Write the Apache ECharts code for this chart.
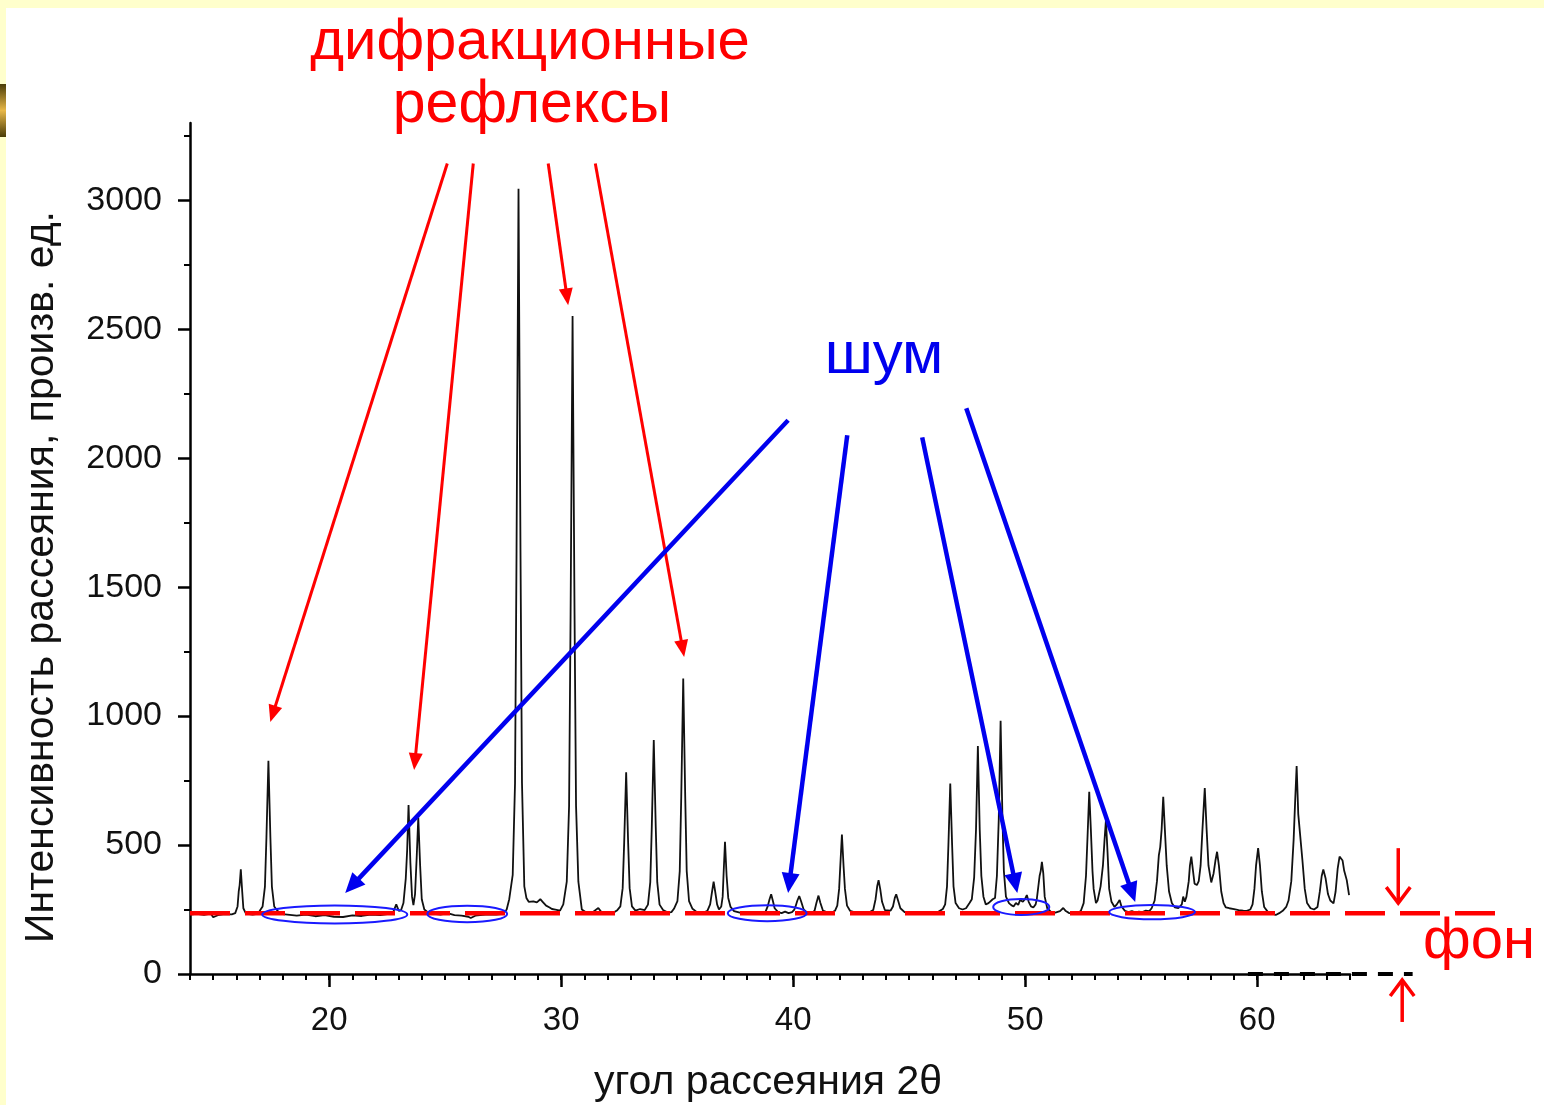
<!DOCTYPE html>
<html><head><meta charset="utf-8">
<script src="https://cdn.jsdelivr.net/npm/echarts@6/dist/echarts.min.js"></script>
<style>
html,body{margin:0;padding:0;width:1544px;height:1105px;overflow:hidden;background:#FFFFCC;}
#panel{position:absolute;left:6px;top:8px;right:0;bottom:0;background:#fff;}
#tab{position:absolute;left:0;top:84px;width:6px;height:53px;background:linear-gradient(#4a3c08,#e8b848 50%,#4a3c08);}
#chart{position:absolute;left:0;top:0;width:1544px;height:1105px;}
</style></head><body>
<div id="panel"></div><div id="tab"></div><div id="chart"></div>
<script>
// ---- data ----
const xMin = 14, xMax = 64, yMin = 0, yMax = 3300;
const xMajorTicks = [20, 30, 40, 50, 60];
const xMinorTicks = [14,15,16,17,18,19,20,21,22,23,24,25,26,27,28,29,30,31,32,33,34,35,36,37,38,39,40,41,42,43,44,45,46,47,48,49,50,51,52,53,54,55,56,57,58,59,60,61,62,63,64];
const yMajorTicks = [0, 500, 1000, 1500, 2000, 2500, 3000];
const yMinorTicks = [250, 750, 1250, 1750, 2250, 2750, 3250];
const backgroundLevel = [[14, 236], [70.6, 236]];
const zeroLevel = [[59.6, 0], [66.7, 0]];
const spectrum = [
[14.0,230],[14.3,233],[14.6,229],[14.9,234],[15.0,220],[15.2,228],[15.5,232],[15.8,231],
[15.95,236],[16.05,262],[16.1,320],[16.14,345],[16.19,406],[16.25,320],[16.3,255],[16.4,236],[16.55,232],
[16.7,230],[16.9,233],
[17.0,244],[17.13,262],[17.23,339],[17.295,530],[17.38,827],[17.465,530],[17.53,339],[17.63,262],[17.78,244],
[18.0,232],[18.3,229],[18.6,226],[19.0,230],[19.4,224],[19.8,228],[20.2,222],[20.6,221],[21.0,227],[21.4,225],
[21.8,230],[22.2,228],[22.5,232],[22.75,238],[22.89,270],[23.0,245],
[23.1,248],[23.2,275],[23.3,370],[23.36,480],[23.42,655],[23.5,430],[23.57,300],[23.63,267],[23.7,310],[23.77,450],
[23.84,607],[23.92,420],[23.99,290],[24.1,250],[24.25,240],
[24.5,233],[24.8,230],[25.1,236],[25.4,228],[25.7,226],[26.0,222],[26.1,217],[26.3,226],[26.6,229],[26.9,231],
[27.2,230],[27.5,233],
[27.65,250],[27.76,290],[27.91,384],[28.01,741],[28.075,1640],[28.16,3045],[28.245,1640],[28.31,741],[28.41,340],
[28.5,295],[28.6,280],[28.66,275],[28.8,282],[28.95,278],[29.1,290],[29.2,280],[29.35,265],[29.5,258],[29.6,252],
[29.75,250],[29.95,246],
[30.09,270],[30.24,358],[30.34,652],[30.405,1394],[30.49,2552],[30.575,1394],[30.64,652],[30.74,358],[30.89,250],
[31.05,240],[31.3,236],[31.6,256],[31.75,238],[32.0,235],[32.25,238],
[32.4,246],[32.55,262],[32.65,333],[32.715,510],[32.8,782],[32.885,510],[32.95,333],[33.05,262],[33.2,246],
[33.4,252],
[33.6,248],[33.74,269],[33.84,356],[33.905,571],[33.99,907],[34.075,571],[34.14,356],[34.24,269],[34.39,248],
[34.6,238],[34.75,240],
[34.86,253],[35.01,283],[35.11,399],[35.175,690],[35.26,1146],[35.345,690],[35.41,399],[35.51,283],[35.66,253],
[35.85,240],[36.1,236],
[36.3,245],[36.42,270],[36.5,318],[36.57,358],[36.64,318],[36.72,270],[36.8,250],
[36.86,252],[36.9,262],[36.96,300],[37.0,390],[37.06,513],[37.13,380],[37.2,295],[37.3,260],[37.45,244],
[37.7,238],[38.0,236],[38.3,233],[38.5,238],[38.65,232],[38.8,240],
[38.9,262],[38.98,290],[39.05,309],[39.12,285],[39.2,255],[39.35,240],[39.5,236],[39.65,242],[39.8,236],[39.95,240],
[40.05,250],[40.1,262],[40.18,285],[40.26,302],[40.34,282],[40.45,250],[40.6,238],[40.8,237],
[40.92,245],[41.0,275],[41.09,304],[41.17,276],[41.28,246],[41.5,238],[41.7,240],
[41.8,245],[41.9,265],[41.98,330],[42.03,420],[42.1,541],[42.17,420],[42.23,330],[42.32,265],[42.45,245],
[42.7,238],[43.0,236],[43.3,240],
[43.45,248],[43.55,290],[43.62,340],[43.68,364],[43.75,330],[43.83,280],[43.95,248],
[44.2,246],[44.3,262],[44.38,295],[44.44,309],[44.52,285],[44.62,255],[44.8,240],
[45.0,236],[45.3,234],[45.6,237],[45.9,235],[46.2,238],
[46.45,252],[46.55,270],[46.63,340],[46.69,500],[46.77,739],[46.85,500],[46.91,340],[47.0,275],[47.15,255],
[47.3,250],[47.45,255],
[47.6,275],[47.7,290],[47.8,375],[47.88,560],[47.96,884],[48.04,560],[48.11,380],[48.2,300],[48.3,270],
[48.42,275],[48.5,282],[48.6,290],
[48.7,295],[48.78,380],[48.86,600],[48.94,982],[49.02,600],[49.08,400],[49.17,300],[49.3,275],
[49.4,267],[49.5,262],[49.6,275],[49.7,268],[49.78,287],[49.9,280],[50.0,292],[50.07,306],[50.15,280],[50.25,262],
[50.35,258],[50.45,270],
[50.5,290],[50.56,335],[50.62,380],[50.67,400],[50.72,435],[50.78,390],[50.84,300],[50.95,255],[51.1,242],
[51.3,238],[51.5,244],[51.64,256],[51.75,244],[51.9,236],[52.1,235],[52.3,238],
[52.4,245],[52.52,275],[52.62,380],[52.69,540],[52.76,707],[52.83,560],[52.9,400],[52.95,330],[53.05,275],
[53.12,285],[53.25,340],[53.35,420],[53.42,520],[53.48,597],[53.55,470],[53.62,330],[53.72,280],[53.85,260],
[53.95,270],[54.07,287],[54.15,262],[54.3,245],
[54.45,240],[54.6,244],[54.75,238],[54.9,242],[55.05,240],[55.2,246],[55.35,244],
[55.45,255],[55.58,285],[55.68,360],[55.76,460],[55.82,492],[55.88,560],[55.95,687],[56.02,560],[56.1,420],
[56.2,320],[56.32,275],[56.45,258],[56.6,255],[56.75,270],[56.81,300],[56.88,280],
[56.95,300],[57.05,360],[57.1,420],[57.16,455],[57.22,410],[57.3,350],[57.4,345],[57.48,360],
[57.56,420],[57.64,560],[57.74,721],[57.82,560],[57.9,420],[58.02,355],[58.12,390],
[58.2,440],[58.27,474],[58.35,420],[58.45,320],[58.55,275],[58.65,258],[58.8,255],[59.0,252],[59.2,248],
[59.4,246],[59.55,245],[59.7,250],
[59.8,270],[59.88,330],[59.95,420],[60.04,488],[60.12,420],[60.2,320],[60.3,260],[60.45,242],[60.6,238],
[60.8,229],[60.95,236],[61.1,245],[61.25,260],
[61.35,285],[61.47,360],[61.57,520],[61.64,680],[61.7,806],[61.77,620],[61.83,560],[61.88,558],[61.95,440],
[62.05,330],[62.15,275],[62.3,255],[62.45,250],[62.6,260],
[62.7,320],[62.78,380],[62.85,405],[62.95,370],[63.05,310],[63.15,285],[63.29,274],
[63.38,320],[63.47,410],[63.55,455],[63.6,461],[63.68,440],[63.75,400],[63.86,364],[63.96,306]
];
// annotations (data coordinates)
const redArrows = [
  [[25.09, 3143], [17.46, 977]],
  [[26.21, 3143], [23.66, 791]],
  [[29.44, 3143], [30.30, 2593]],
  [[31.47, 3143], [35.30, 1229]]
];
const blueArrows = [
  [[39.78, 2147], [20.69, 314]],
  [[42.33, 2089], [39.78, 314]],
  [[45.56, 2081], [49.66, 314]],
  [[47.46, 2194], [54.74, 279]]
];
const noiseRegions = [
  [20.24, 231, 3.125, 35],
  [25.95, 233, 1.72, 32],
  [38.88, 236, 1.70, 31],
  [49.83, 260, 1.21, 31],
  [55.47, 240, 1.85, 28]
];
const fonArrows = [
  [[66.08, 488], [66.08, 275]],
  [[66.25, -186], [66.25, -23]]
];

const FF = '"Liberation Sans", Arial, Helvetica, sans-serif';
const chart = echarts.init(document.getElementById('chart'), null, {renderer: 'canvas'});
const axisBase = {type: 'value', splitLine: {show: false}};
const plain = v => String(v);
chart.setOption({
  animation: false,
  backgroundColor: 'transparent',
  grid: {left: 190, top: 123, width: 1160, height: 851, containLabel: false},
  xAxis: [
    Object.assign({}, axisBase, {min: xMin, max: xMax, position: 'bottom',
      axisLine: {show: true, onZero: false, lineStyle: {color: '#000', width: 2.5}},
      axisTick: {show: true, customValues: xMinorTicks, length: 6, lineStyle: {color: '#000', width: 2}},
      axisLabel: {show: false}}),
    Object.assign({}, axisBase, {min: xMin, max: xMax, position: 'bottom',
      axisLine: {show: false, onZero: false},
      axisTick: {show: true, customValues: xMajorTicks, length: 13, lineStyle: {color: '#000', width: 2.5}},
      axisLabel: {show: true, customValues: xMajorTicks, formatter: plain, fontSize: 33, fontFamily: FF, color: '#111', margin: 30}})
  ],
  yAxis: [
    Object.assign({}, axisBase, {min: yMin, max: yMax, position: 'left',
      axisLine: {show: true, onZero: false, lineStyle: {color: '#000', width: 2.5}},
      axisTick: {show: true, customValues: yMinorTicks, length: 6, lineStyle: {color: '#000', width: 2}},
      axisLabel: {show: false}}),
    Object.assign({}, axisBase, {min: yMin, max: yMax, position: 'left',
      axisLine: {show: false, onZero: false},
      axisTick: {show: true, customValues: yMajorTicks, length: 12, lineStyle: {color: '#000', width: 2.5}},
      axisLabel: {show: true, customValues: yMajorTicks, formatter: plain, fontSize: 34, fontFamily: FF, color: '#111', margin: 28}})
  ],
  series: [
    {type: 'line', data: spectrum, xAxisIndex: 0, yAxisIndex: 0, symbol: 'none', showSymbol: false,
     lineStyle: {color: '#111', width: 1.8}, z: 2}
  ]
});

function px(p) { return chart.convertToPixel({xAxisIndex: 0, yAxisIndex: 0}, p); }
function arrow(tail, tip, color, w, hl, hw) {
  const a = px(tail), b = px(tip);
  const dx = b[0] - a[0], dy = b[1] - a[1], L = Math.hypot(dx, dy), ux = dx / L, uy = dy / L;
  const bx = b[0] - ux * hl, by = b[1] - uy * hl;
  return [
    {type: 'line', z: 100, shape: {x1: a[0], y1: a[1], x2: bx + ux * 2, y2: by + uy * 2},
     style: {stroke: color, lineWidth: w}},
    {type: 'polygon', z: 100, shape: {points: [[b[0], b[1]], [bx - uy * hw, by + ux * hw], [bx + uy * hw, by - ux * hw]]},
     style: {fill: color}}
  ];
}
function openArrow(tail, tip, color, w, hl, hw) {
  const a = px(tail), b = px(tip);
  const dx = b[0] - a[0], dy = b[1] - a[1], L = Math.hypot(dx, dy), ux = dx / L, uy = dy / L;
  const bx = b[0] - ux * hl, by = b[1] - uy * hl;
  return [
    {type: 'line', z: 100, shape: {x1: a[0], y1: a[1], x2: b[0], y2: b[1]}, style: {stroke: color, lineWidth: w}},
    {type: 'polyline', z: 100, shape: {points: [[bx - uy * hw, by + ux * hw], [b[0], b[1]], [bx + uy * hw, by - ux * hw]]},
     style: {stroke: color, lineWidth: w, fill: null}}
  ];
}
function levelLine(pts, color, w, dash, z) {
  const a = px(pts[0]), b = px(pts[1]);
  return {type: 'line', z: z, shape: {x1: a[0], y1: a[1], x2: b[0], y2: b[1]},
    style: {stroke: color, lineWidth: w, lineDash: dash, lineCap: 'butt'}};
}
function txt(x, y, s, size, color, rot) {
  return {type: 'text', x: x, y: y, rotation: rot || 0, z: 100,
    style: {text: s, x: 0, y: 0, fill: color, font: size + 'px ' + FF,
      align: 'center', verticalAlign: 'middle', textAlign: 'center', textVerticalAlign: 'middle'}};
}
let g = [];
g.push(levelLine(backgroundLevel, '#ff0000', 4.5, [40, 15], 50));
g.push(levelLine(zeroLevel, '#000', 4, [15, 11], 50));
redArrows.forEach(r => { g = g.concat(arrow(r[0], r[1], '#ff0000', 3, 17, 7)); });
blueArrows.forEach(r => { g = g.concat(arrow(r[0], r[1], '#0000ee', 4.5, 20, 9)); });
fonArrows.forEach(r => { g = g.concat(openArrow(r[0], r[1], '#ff0000', 3.5, 16, 12)); });
noiseRegions.forEach(e => {
  const c = px([e[0], e[1]]);
  const rx = px([e[0] + e[2], e[1]])[0] - c[0];
  const ry = c[1] - px([e[0], e[1] + e[3]])[1];
  g.push({type: 'ellipse', z: 101, shape: {cx: c[0], cy: c[1], rx: rx, ry: ry},
    style: {stroke: '#1a1aff', lineWidth: 2, fill: null}});
});
g.push(txt(530, 43, 'дифракционные', 58, '#ff0000'));
g.push(txt(532, 106, 'рефлексы', 59, '#ff0000'));
g.push(txt(884, 356, 'шум', 60, '#0000ee'));
g.push(txt(1479, 942, 'фон', 58, '#ff0000'));
g.push(txt(768, 1083, 'угол рассеяния 2θ', 41, '#111'));
g.push(txt(42, 577, 'Интенсивность рассеяния, произв. ед.', 41, '#111', Math.PI / 2));
chart.setOption({graphic: {elements: g}});
</script>
</body></html>
